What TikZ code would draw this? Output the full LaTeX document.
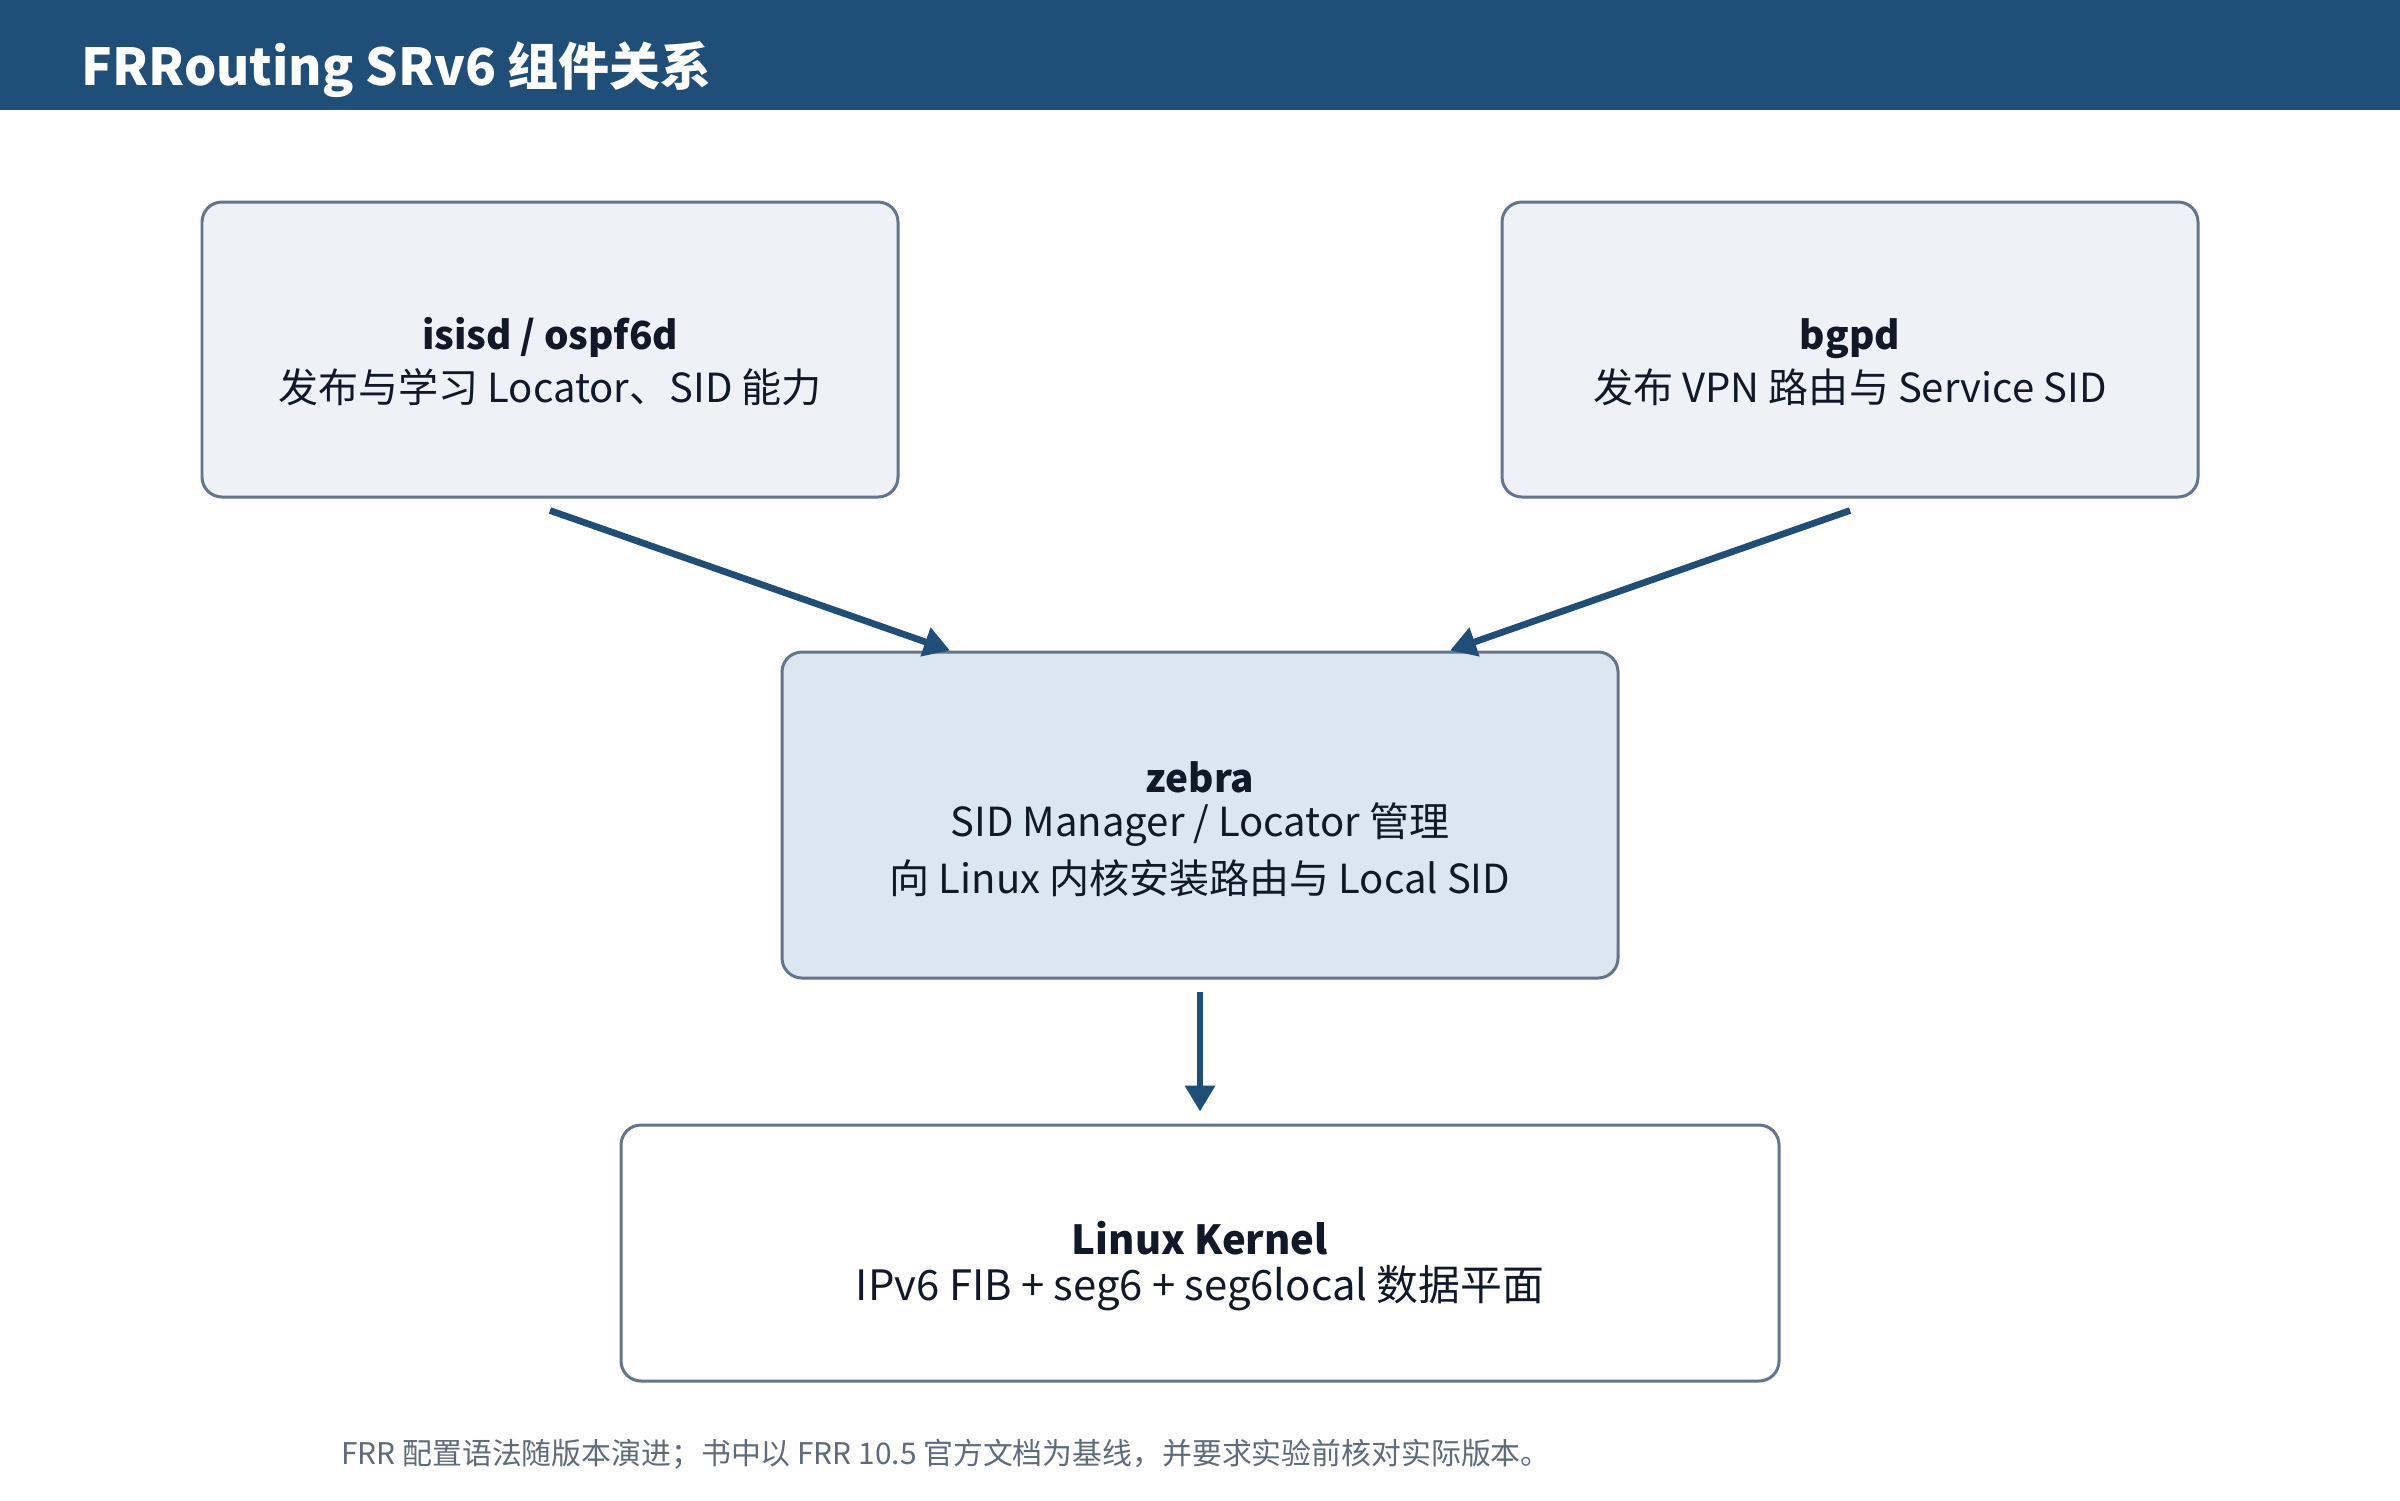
\documentclass[tikz,border=0pt]{standalone}
\usepackage{fontspec}
\setmainfont{Noto Sans CJK SC}
\usepackage{tikz}
\usetikzlibrary{arrows.meta,positioning}
\definecolor{frrnavy}{HTML}{1F4E79}
\definecolor{frrslate}{HTML}{64748B}
\definecolor{frrpale}{HTML}{EEF2F7}
\definecolor{frrzebra}{HTML}{DAE7F2}
\definecolor{frrink}{HTML}{111827}
\definecolor{frrgrey}{HTML}{5F6B7A}
% fixed line heights so the text sits where it should
\newcommand{\frrup}[1]{\rule{0pt}{#1}}
\newcommand{\frrdn}{\rule[-5pt]{0pt}{5pt}}
\newcommand{\frrname}[1]{{\fontsize{11}{13}\selectfont\bfseries #1}}

\begin{document}
\begin{tikzpicture}[
  node distance=14.4mm,
  box/.style={draw=frrslate,line width=0.85pt,rounded corners=2mm,fill=frrpale,minimum width=69.6mm,minimum height=29.5mm,align=center,text=frrink,font=\fontsize{11.4}{15.1}\selectfont},
  core/.style={box,fill=frrzebra,minimum width=83.6mm,minimum height=32.6mm,font=\fontsize{11.4}{16.2}\selectfont},
  sink/.style={box,fill=white,minimum width=115.8mm,minimum height=25.6mm,font=\fontsize{11.9}{13.1}\selectfont},
  arr/.style={-{Triangle[length=2.6mm,width=2.9mm]},line width=1.9pt,draw=frrnavy}
]
\useasboundingbox (0,0) rectangle (24,-15);
\fill[frrnavy] (0,0) rectangle (24,-1.1);
\node[anchor=base west,text=white,font=\fontsize{14.5}{17}\selectfont\bfseries,inner sep=0pt] (title) at (0.81,-0.85) {FRRouting SRv6 组件关系};
\node[box] (isis) at (5.5,-3.495) {\frrup{20.1pt}\frrname{isisd / ospf6d}\\发布与学习 Locator、SID 能力\frrdn};
\node[box] (bgp) at (18.5,-3.495) {\frrup{20.1pt}\frrname{bgpd}\\发布 VPN 路由与 Service SID\frrdn};
\node[core] (zebra) at (12,-8.15) {\frrup{20.9pt}\frrname{zebra}\\[-3.4pt]SID Manager / Locator 管理\\向 Linux 内核安装路由与 Local SID\frrdn};
\node[sink,below=of zebra] (kernel) {\frrup{19.2pt}{\fontsize{11.4}{13}\selectfont\bfseries Linux Kernel}\\IPv6 FIB + seg6 + seg6local 数据平面\frrdn};
\draw[arr] ([yshift=-1.2mm]isis.south) -- ([xshift=-25mm]zebra.north);
\draw[arr] ([yshift=-1.2mm]bgp.south) -- ([xshift=25mm]zebra.north);
\draw[arr] ([yshift=-1.2mm]zebra.south) -- ([yshift=1.2mm]kernel.north);
\node[text=frrgrey,font=\fontsize{8.5}{10}\selectfont] (note) at (9.46,-14.54) {FRR 配置语法随版本演进；书中以 FRR 10.5 官方文档为基线，并要求实验前核对实际版本。};
\end{tikzpicture}
\end{document}
